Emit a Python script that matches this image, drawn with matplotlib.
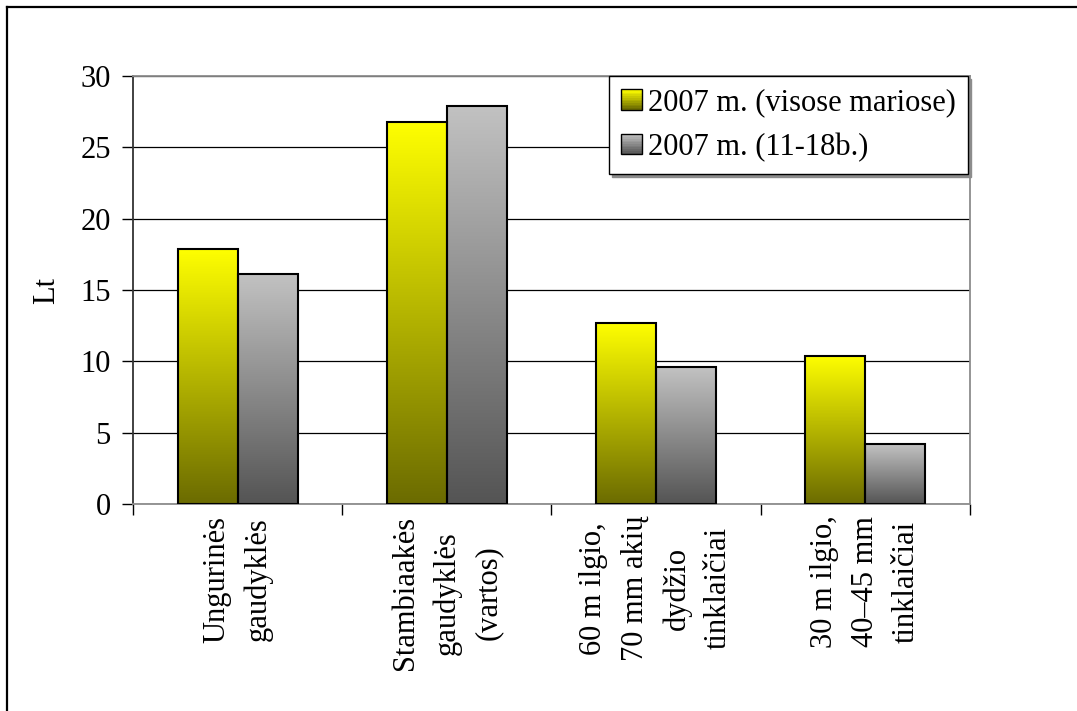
import numpy as np
import matplotlib
matplotlib.use("Agg")
import matplotlib.pyplot as plt
from matplotlib.patches import Rectangle
from matplotlib.lines import Line2D
from matplotlib.legend_handler import HandlerBase

categories = [
    "Ungurinės\ngaudyklės",
    "Stambiaakės\ngaudyklės\n(vartos)",
    "60 m ilgio,\n70 mm akių\ndydžio\ntinklaičiai",
    "30 m ilgio,\n40–45 mm\ntinklaičiai",
]
visose_mariose = [17.9, 26.8, 12.7, 10.4]
b_11_18 = [16.1, 27.9, 9.6, 4.2]
series_names = ["2007 m. (visose mariose)", "2007 m. (11-18b.)"]
yticks = [0, 5, 10, 15, 20, 25, 30]

# top colour -> bottom colour of each gradient
yellow_grad = ((1.0, 1.0, 0.0), (0.42, 0.42, 0.0))
gray_grad = ((0.76, 0.76, 0.76), (0.33, 0.33, 0.33))

plt.rcParams["font.family"] = ["Liberation Serif", "DejaVu Serif"]
plt.rcParams["font.size"] = 22

fig = plt.figure(figsize=(10.77, 7.11), dpi=100)
ax = fig.add_axes([0.1235, 0.2911, 0.777, 0.602])


def gradient_bars(ax, xs, heights, width, grad):
    top, bot = np.array(grad[0]), np.array(grad[1])
    t = np.linspace(0, 1, 256)[:, None]
    img = (top * (1 - t) + bot * t)[:, None, :]
    bars = ax.bar(xs, heights, width, facecolor="none", edgecolor="black",
                  linewidth=1.5, zorder=3)
    for b in bars:
        x0, y0 = b.get_x(), b.get_y()
        im = ax.imshow(img, aspect="auto", interpolation="bilinear",
                       extent=(x0, x0 + b.get_width(), y0, y0 + b.get_height()),
                       origin="upper", zorder=2)
        im.set_clip_path(b)
    return bars


class GradientHandler(HandlerBase):
    def __init__(self, grad):
        super().__init__()
        self.grad = grad

    def create_artists(self, legend, orig_handle, xdescent, ydescent,
                       width, height, fontsize, trans):
        size = height * 0.95
        x0 = -xdescent + (width - size) / 2
        y0 = -ydescent + (height - size) / 2
        top, bot = np.array(self.grad[0]), np.array(self.grad[1])
        n = 12
        arts = []
        for i in range(n):
            t = i / (n - 1)
            col = top * (1 - t) + bot * t
            arts.append(Rectangle((x0, y0 + size * (n - 1 - i) / n), size, size / n,
                                  facecolor=col, edgecolor="none", transform=trans))
        arts.append(Rectangle((x0, y0), size, size, facecolor="none",
                              edgecolor="black", linewidth=1.0, transform=trans))
        return arts


x = np.arange(len(categories))
w = 0.287
h1 = gradient_bars(ax, x - w / 2, visose_mariose, w, yellow_grad)
h2 = gradient_bars(ax, x + w / 2, b_11_18, w, gray_grad)

ax.set_xlim(-0.5, len(categories) - 0.5)
ax.set_ylim(0, 30)
ax.set_yticks(yticks)
ax.yaxis.grid(True, color="black", linewidth=0.9, zorder=0)
ax.set_axisbelow(True)
ax.set_ylabel("Lt", labelpad=14)

ax.set_xticks(x)
ax.set_xticklabels([])
ax.tick_params(axis="x", which="major", length=0)
ax.set_xticks(np.arange(-0.5, len(categories)), minor=True)
ax.tick_params(axis="x", which="minor", length=8, direction="out", width=1)
ax.tick_params(axis="y", length=8, direction="out", width=1, pad=8)

for xi, lab in zip(x, categories):
    ax.text(xi, -0.027, lab, transform=ax.get_xaxis_transform(), rotation=90,
            ha="center", va="top", multialignment="center", linespacing=1.55)

ax.spines["left"].set_color("#333333")
ax.spines["left"].set_linewidth(1.3)
for s in ("top", "right", "bottom"):
    ax.spines[s].set_color("#8c8c8c")
    ax.spines[s].set_linewidth(1.3)

h1_proxy = Rectangle((0, 0), 1, 1)
h2_proxy = Rectangle((0, 0), 1, 1)
leg = ax.legend([h1_proxy, h2_proxy], series_names,
                handler_map={h1_proxy: GradientHandler(yellow_grad),
                             h2_proxy: GradientHandler(gray_grad)},
                loc="upper right", bbox_to_anchor=(0.9975, 1.0), frameon=True,
                fancybox=False, edgecolor="black", framealpha=1,
                shadow={"color": "#8c8c8c", "alpha": 1},
                handlelength=0.65, handletextpad=0.2, borderpad=0.4,
                labelspacing=0.5, borderaxespad=0.0)
leg.get_frame().set_linewidth(1.0)
leg.set_zorder(5)

# outer chart frame, running past the right and bottom edges
fig.add_artist(Line2D([7 / 1077, 1.0], [1 - 7 / 711, 1 - 7 / 711],
                      transform=fig.transFigure, color="black", linewidth=1.6))
fig.add_artist(Line2D([7 / 1077, 7 / 1077], [0.0, 1 - 7 / 711],
                      transform=fig.transFigure, color="black", linewidth=1.6))

fig.savefig("out.png", dpi=100)
